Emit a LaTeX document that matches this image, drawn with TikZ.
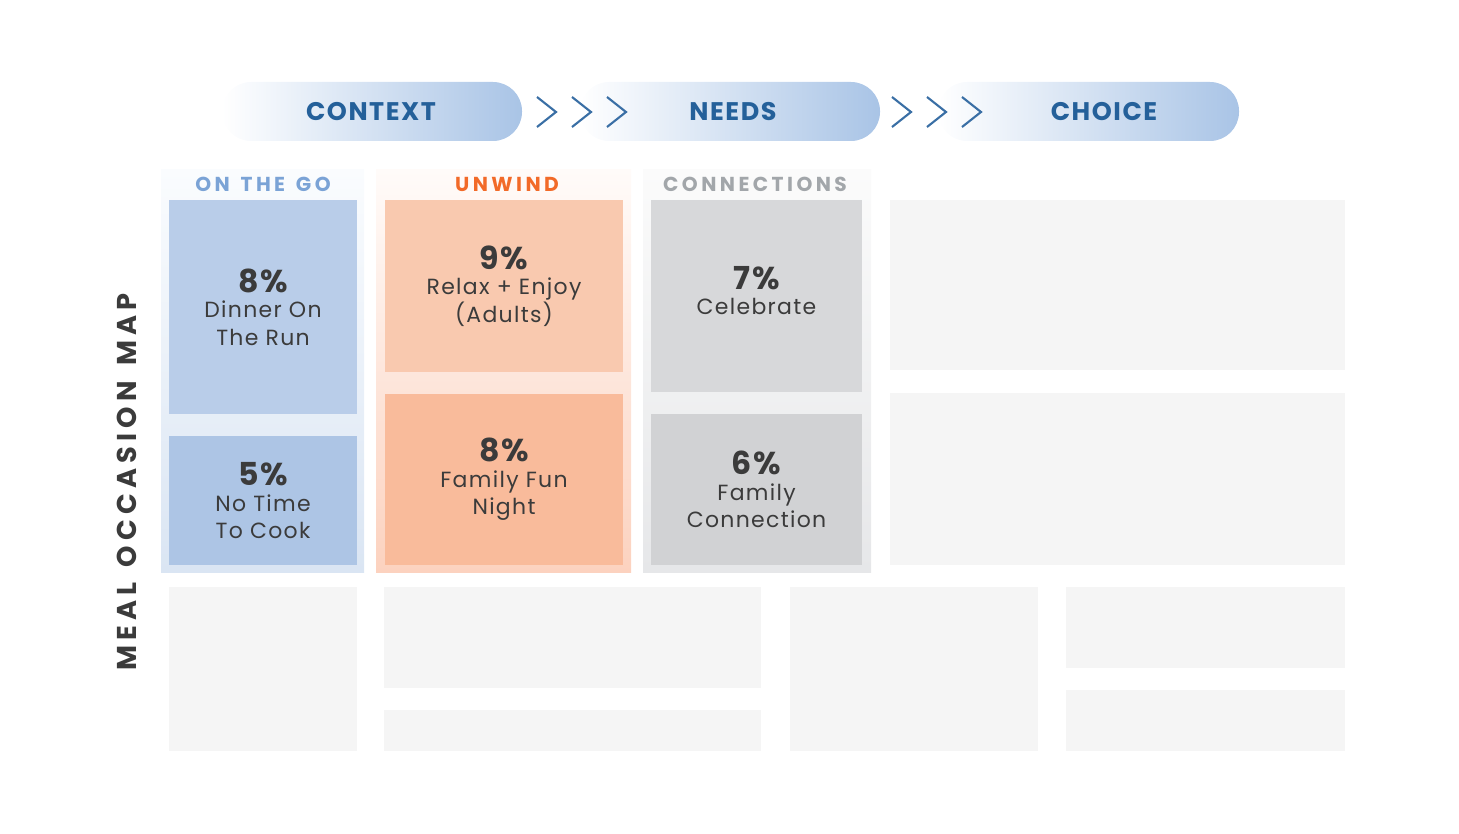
\documentclass[tikz,border=0pt]{standalone}
\usepackage{fontspec}
\setmainfont{Poppins}
\newfontfamily\widefont[LetterSpace=17, WordSpace=1.4]{Poppins}
\newfontfamily\mapfont[LetterSpace=19, WordSpace=1.4]{Poppins}
\newfontfamily\trackfont[LetterSpace=6]{Poppins}
\usetikzlibrary{positioning}
\definecolor{pillblue}{HTML}{A9C4E6}
\definecolor{textblue}{HTML}{24609A}
\definecolor{chevblue}{HTML}{3A6FA5}
\definecolor{gotitle}{HTML}{7BA3D6}
\definecolor{gotop}{HTML}{FAFCFE}
\definecolor{gobot}{HTML}{DAE5F3}
\definecolor{goboxa}{HTML}{B9CDE9}
\definecolor{goboxb}{HTML}{ADC5E5}
\definecolor{untitle}{HTML}{F26A28}
\definecolor{untop}{HTML}{FFFBF9}
\definecolor{unbot}{HTML}{FCD2BF}
\definecolor{unboxa}{HTML}{F9C9AF}
\definecolor{unboxb}{HTML}{F9BB9B}
\definecolor{contitle}{HTML}{A2A6AA}
\definecolor{contop}{HTML}{FBFBFB}
\definecolor{conbot}{HTML}{E6E7E9}
\definecolor{conboxa}{HTML}{D7D8DA}
\definecolor{conboxb}{HTML}{D1D2D4}
\definecolor{blankgrey}{HTML}{F5F5F5}
\definecolor{darktext}{HTML}{3B3B3B}
\tikzset{
  every picture/.style={font=\trackfont},
  wh/.style 2 args={minimum width=#1*0.02cm, minimum height=#2*0.02cm, inner sep=0pt},
  pill/.style={left color=white, right color=pillblue, rounded corners=0.58cm},
  pilltext/.style={font=\trackfont\bfseries\fontsize{14.5}{18}\selectfont, text=textblue},
  chev/.style={draw=chevblue, line width=1.2pt},
  coltitle/.style={font=\widefont\bfseries\fontsize{11.5}{14}\selectfont, text=#1},
  occ/.style={fill=#1, align=center, text=darktext, font=\trackfont\fontsize{12.5}{15.5}\selectfont},
  blank/.style={fill=blankgrey},
}
\newcommand{\pct}[1]{{\fontsize{18}{18}\selectfont\bfseries #1}\\[-1pt]}

\begin{document}
\begin{tikzpicture}[x=0.02cm, y=-0.02cm]
  \useasboundingbox (0,0) rectangle (1459,834);
  % banner
  \node[pill, wh={300}{59}] (context) at (372,111.5) {};
  \node[pill, wh={300}{59}] (needs) at (730,111.5) {};
  \node[pill, wh={301}{59}] (choice) at (1088.5,111.5) {};
  \node[pilltext] (contextlbl) at (371,112) {CONTEXT};
  \node[pilltext] (needslbl) at (733,112) {NEEDS};
  \node[pilltext] (choicelbl) at (1104,112) {CHOICE};
  \foreach \cx in {537,572,607,892,927,962}
    \draw[chev] (\cx,97) -- ++(19,15) -- ++(-19,15);
  % side title
  \node[rotate=90, font=\mapfont\bfseries\fontsize{15.5}{16}\selectfont, text=darktext] (maptitle) at (127,482) {MEAL OCCASION MAP};
  % columns
  \node[wh={203}{402}, top color=gotop, bottom color=gobot] (colgo) at (262.5,371) {};
  \node[wh={255}{402}, top color=untop, bottom color=unbot] (colun) at (503.5,371) {};
  \node[wh={228}{402}, top color=contop, bottom color=conbot] (colcon) at (757,371) {};
  \node[coltitle=gotitle] (gotitle) at (263,184) {ON THE GO};
  \node[coltitle=untitle] (untitle) at (507,184) {UNWIND};
  \node[coltitle=contitle] (contitle) at (755,184) {CONNECTIONS};
  % occasions
  \node[occ=goboxa, wh={188}{214}] (dinner) at (263,307) {\pct{8\%}Dinner On\\The Run};
  \node[occ=goboxb, wh={188}{129}] (notime) at (263,500.5) {\pct{5\%}No Time\\To Cook};
  \node[occ=unboxa, wh={238}{172}] (relax) at (504,286) {\pct{9\%}Relax + Enjoy\\(Adults)};
  \node[occ=unboxb, wh={238}{171}] (funnight) at (504,479.5) {\pct{8\%}Family Fun\\Night};
  \node[occ=conboxa, wh={211}{192}] (celebrate) at (756.5,296) {\pct{7\%}Celebrate\\[-9pt]\mbox{}};
  \node[occ=conboxb, wh={211}{151}] (famconn) at (756.5,489.5) {\pct{6\%}Family\\Connection};
  % empty slots
  \node[blank, wh={455}{170}] (slotra) at (1117.5,285) {};
  \node[blank, wh={455}{172}] (slotrb) at (1117.5,479) {};
  \node[blank, wh={188}{164}] (slotba) at (263,669) {};
  \node[blank, wh={377}{101}] (slotbb) at (572.5,637.5) {};
  \node[blank, wh={377}{41}] (slotbc) at (572.5,730.5) {};
  \node[blank, wh={248}{164}] (slotbd) at (914,669) {};
  \node[blank, wh={279}{81}] (slotbe) at (1205.5,627.5) {};
  \node[blank, wh={279}{61}] (slotbf) at (1205.5,720.5) {};
\end{tikzpicture}
\end{document}
